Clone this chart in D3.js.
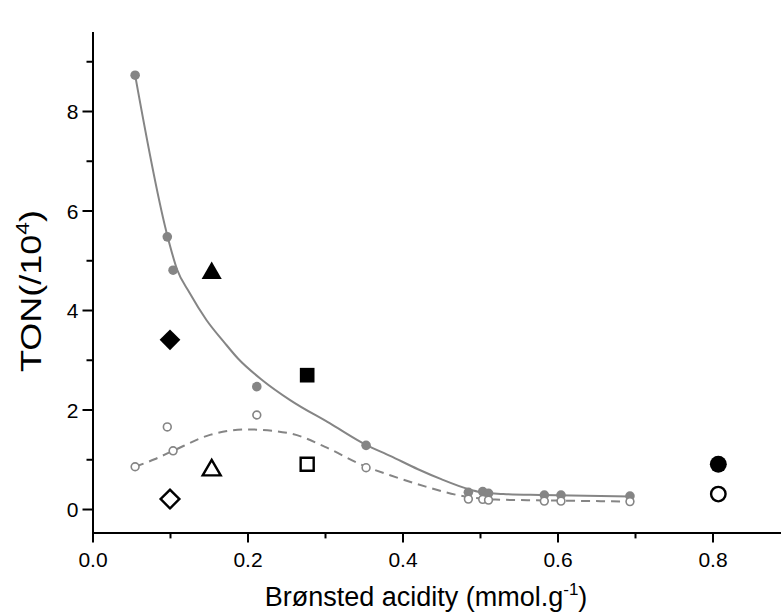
<!DOCTYPE html>
<html>
<head>
<meta charset="utf-8">
<script src="https://cdn.jsdelivr.net/npm/d3@7"></script>
<style>
  html, body { margin: 0; padding: 0; background: #fff; }
  svg { display: block; font-family: "Liberation Sans", Arial, sans-serif; }
</style>
</head>
<body>
<svg id="chart" width="781" height="612"></svg>
<script>
// Brønsted acidity (mmol/g) of the catalyst series
const acidity = [0.055, 0.0965, 0.104, 0.212, 0.353, 0.485, 0.5035, 0.511, 0.583, 0.6045, 0.6935];
// TON (x10^4), filled grey circles
const tonFilled = [8.72, 5.47, 4.80, 2.46, 1.28, 0.335, 0.35, 0.315, 0.28, 0.28, 0.26];
// TON (x10^4), open grey circles
const tonOpen = [0.85, 1.65, 1.17, 1.89, 0.83, 0.20, 0.195, 0.18, 0.16, 0.16, 0.15];

// Trend curve through the filled series
const trendFilledX = [0.055, 0.0965, 0.109, 0.125, 0.147, 0.170, 0.188, 0.220, 0.255, 0.3065, 0.353, 0.384, 0.420, 0.450, 0.485, 0.500, 0.530, 0.580, 0.6935];
const trendFilledY = [8.72, 5.50, 4.82, 4.35, 3.80, 3.35, 3.02, 2.58, 2.19, 1.72, 1.29, 1.07, 0.80, 0.60, 0.40, 0.34, 0.30, 0.28, 0.25];
// Trend curve through the open series (dashed)
const trendOpenX = [0.055, 0.080, 0.104, 0.1516, 0.199, 0.255, 0.300, 0.350, 0.384, 0.430, 0.485, 0.520, 0.600, 0.6935];
const trendOpenY = [0.85, 1.00, 1.17, 1.49, 1.60, 1.52, 1.25, 0.87, 0.68, 0.45, 0.24, 0.19, 0.17, 0.15];

// Reference catalysts (black markers)
const refShapes = ["diamond", "triangle", "square", "circle"];
const refAcidity = [0.100, 0.1538, 0.277, 0.8075];
const refTonFilled = [3.40, 4.74, 2.69, 0.90];
const refTonOpen = [0.20, 0.78, 0.90, 0.30];

// Axis ticks
const xMajor = [0, 0.2, 0.4, 0.6, 0.8];
const xMinor = [0.1, 0.3, 0.5, 0.7];
const xTickLabels = ["0.0", "0.2", "0.4", "0.6", "0.8"];
const yMajor = [0, 2, 4, 6, 8];
const yMinor = [1, 3, 5, 7, 9];
const yTickLabels = ["0", "2", "4", "6", "8"];

const svg = d3.select("#chart");
const grey = "#858585";

const x = d3.scaleLinear().domain([0, 0.9]).range([92.5, 790]);
const y = d3.scaleLinear().domain([-0.47, 9.6]).range([532.4, 31.4]);

// Axes: major ticks with labels, minor ticks without
const gx = svg.append("g").attr("transform", `translate(0,${y(-0.47)})`);
gx.call(d3.axisBottom(x).tickValues(xMajor).tickSize(10).tickSizeOuter(0)
  .tickFormat((d, i) => xTickLabels[i]));
gx.append("g").call(d3.axisBottom(x).tickValues(xMinor).tickSize(6).tickFormat(""))
  .select(".domain").remove();

const gy = svg.append("g").attr("transform", `translate(${x(0)},0)`);
gy.call(d3.axisLeft(y).tickValues(yMajor).tickSize(10).tickSizeOuter(0)
  .tickFormat((d, i) => yTickLabels[i]));
gy.append("g").call(d3.axisLeft(y).tickValues(yMinor).tickSize(6).tickFormat(""))
  .select(".domain").remove();

svg.selectAll(".domain, .tick line").attr("stroke", "#000").attr("stroke-width", 2);
svg.selectAll(".tick text").attr("font-size", 21).attr("fill", "#000")
  .attr("font-family", "'Liberation Sans', Arial, sans-serif");
gx.selectAll(".tick text").attr("y", 0).attr("dy", 35);
gy.selectAll(".tick text").attr("x", -14).attr("dy", "0.36em");

// Trend lines
const line = d3.line().x(d => x(d[0])).y(d => y(d[1])).curve(d3.curveMonotoneX);
svg.append("path")
  .datum(trendFilledX.map((v, i) => [v, trendFilledY[i]]))
  .attr("d", line).attr("fill", "none").attr("stroke", grey).attr("stroke-width", 2);
svg.append("path")
  .datum(trendOpenX.map((v, i) => [v, trendOpenY[i]]))
  .attr("d", line).attr("fill", "none").attr("stroke", grey).attr("stroke-width", 2)
  .attr("stroke-dasharray", "9,6");

// Grey data points
svg.append("g").selectAll("circle")
  .data(acidity.map((v, i) => [v, tonFilled[i]]))
  .join("circle")
  .attr("cx", d => x(d[0])).attr("cy", d => y(d[1])).attr("r", 4.8)
  .attr("fill", grey);
svg.append("g").selectAll("circle")
  .data(acidity.map((v, i) => [v, tonOpen[i]]))
  .join("circle")
  .attr("cx", d => x(d[0])).attr("cy", d => y(d[1])).attr("r", 3.9)
  .attr("fill", "#fff").attr("stroke", grey).attr("stroke-width", 1.6);

// Black reference markers
const symbolType = { diamond: d3.symbolSquare, triangle: d3.symbolTriangle, square: d3.symbolSquare, circle: d3.symbolCircle };
const symbolSize = { diamond: 215, triangle: 175, square: 215, circle: 225 };
const openSize = { diamond: 175, triangle: 140, square: 170, circle: 165 };
const rot = s => s === "diamond" ? 45 : 0;

svg.append("g").selectAll("path")
  .data(refShapes.map((s, i) => ({ s, v: refAcidity[i], t: refTonFilled[i] })))
  .join("path")
  .attr("d", d => d3.symbol(symbolType[d.s], symbolSize[d.s])())
  .attr("transform", d => `translate(${x(d.v)},${y(d.t)}) rotate(${rot(d.s)})`)
  .attr("fill", "#000");

svg.append("g").selectAll("path")
  .data(refShapes.map((s, i) => ({ s, v: refAcidity[i], t: refTonOpen[i] })))
  .join("path")
  .attr("d", d => d3.symbol(symbolType[d.s], openSize[d.s])())
  .attr("transform", d => `translate(${x(d.v)},${y(d.t)}) rotate(${rot(d.s)})`)
  .attr("fill", "#fff").attr("stroke", "#000").attr("stroke-width", 2.4);

// Axis titles
const xt = svg.append("text")
  .attr("x", 426).attr("y", 606).attr("text-anchor", "middle")
  .attr("font-size", 27).attr("fill", "#000");
xt.append("tspan").text("Brønsted acidity (mmol.g");
xt.append("tspan").attr("font-size", 17).attr("dy", -11).text("-1");
xt.append("tspan").attr("dy", 11).text(")");

const yt = svg.append("text")
  .attr("transform", "translate(41,291) rotate(-90) scale(1.2,1)").attr("text-anchor", "middle")
  .attr("font-size", 30).attr("fill", "#000");
yt.append("tspan").text("TON(/10");
yt.append("tspan").attr("font-size", 19).attr("dy", -12).text("4");
yt.append("tspan").attr("dy", 12).text(")");
</script>
</body>
</html>
